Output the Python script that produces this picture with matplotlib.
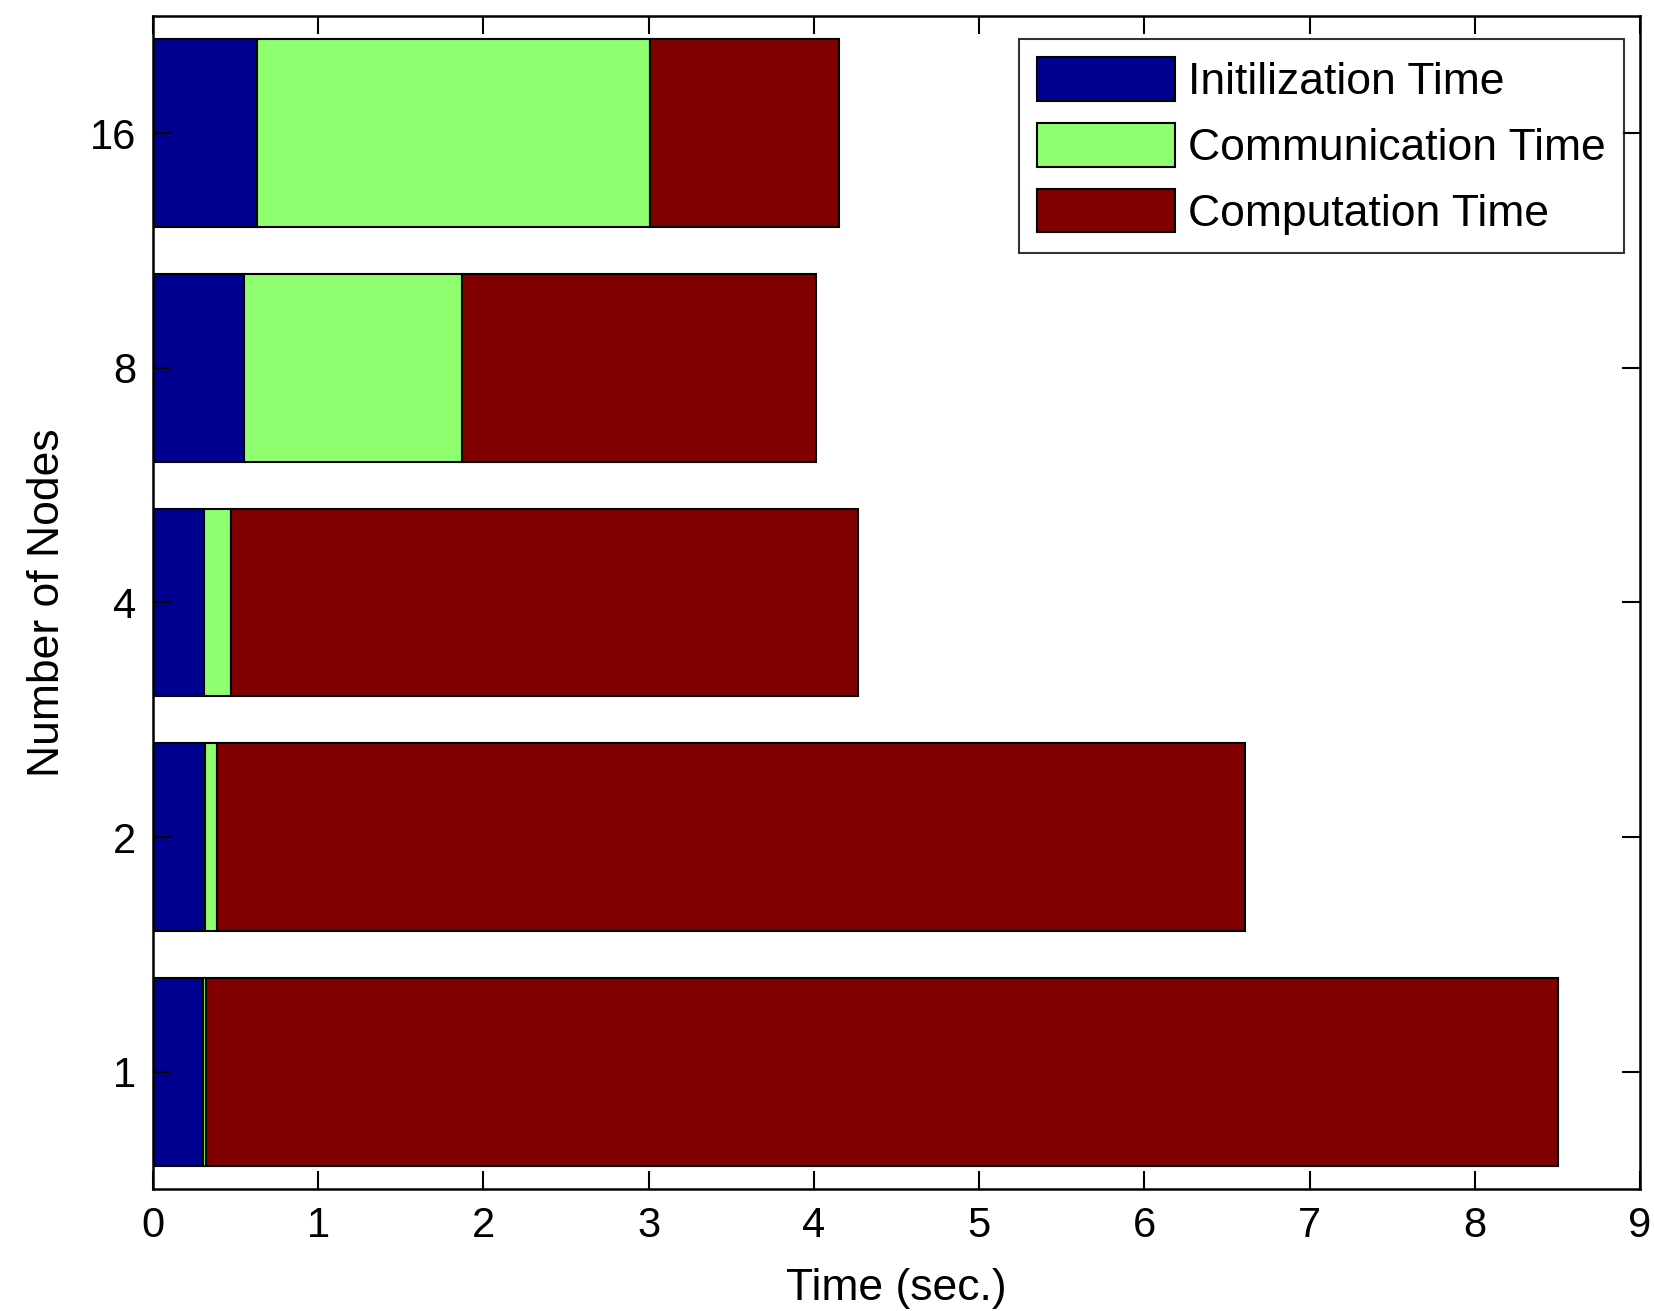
import numpy as np
import matplotlib
matplotlib.use("Agg")
import matplotlib.pyplot as plt

# data (seconds)
nodes = ["1", "2", "4", "8", "16"]
init_time = [0.30, 0.315, 0.31, 0.55, 0.63]
comm_time = [0.02, 0.075, 0.165, 1.32, 2.38]
comp_time = [8.185, 6.22, 3.79, 2.14, 1.145]

series_names = ["Initilization Time", "Communication Time", "Computation Time"]
series_colors = [(0.0, 0.0, 0.56), (0.56, 1.0, 0.44), (0.5, 0.0, 0.0)]

plt.rcParams['font.family'] = ['Liberation Sans', 'DejaVu Sans']

fig = plt.figure(figsize=(16.54, 13.11), dpi=100)
ax = fig.add_axes([153 / 1654, 1 - 1189 / 1311, (1640 - 153) / 1654, (1189 - 16) / 1311])

y = np.arange(1, len(nodes) + 1)
left = np.zeros(len(nodes))
for vals, name, col in zip([init_time, comm_time, comp_time], series_names, series_colors):
    ax.barh(y, vals, left=left, height=0.8, color=col, edgecolor='black',
            linewidth=1.5, label=name)
    left = left + np.array(vals)

ax.set_xlim(0, 9)
ax.set_ylim(0.5, 5.5)
ax.set_xticks(range(0, 10))
ax.set_yticks(y)
ax.set_yticklabels(nodes)
ax.tick_params(direction='in', length=13, width=1.5, labelsize=30,
               top=True, right=True, pad=12)
for s in ax.spines.values():
    s.set_linewidth(1.8)

ax.set_xlabel("Time (sec.)", fontsize=32, labelpad=16)
ax.set_ylabel("Number of Nodes", fontsize=32, labelpad=16)

leg = ax.legend(loc='upper right', bbox_to_anchor=(0.989, 0.98), borderaxespad=0,
                fontsize=32, frameon=True, fancybox=False,
                edgecolor='black', handlelength=3.1, handleheight=1.13,
                labelspacing=0.45, handletextpad=0.3, borderpad=0.4)
leg.get_frame().set_linewidth(1.5)

fig.savefig("out.png", dpi=100)
